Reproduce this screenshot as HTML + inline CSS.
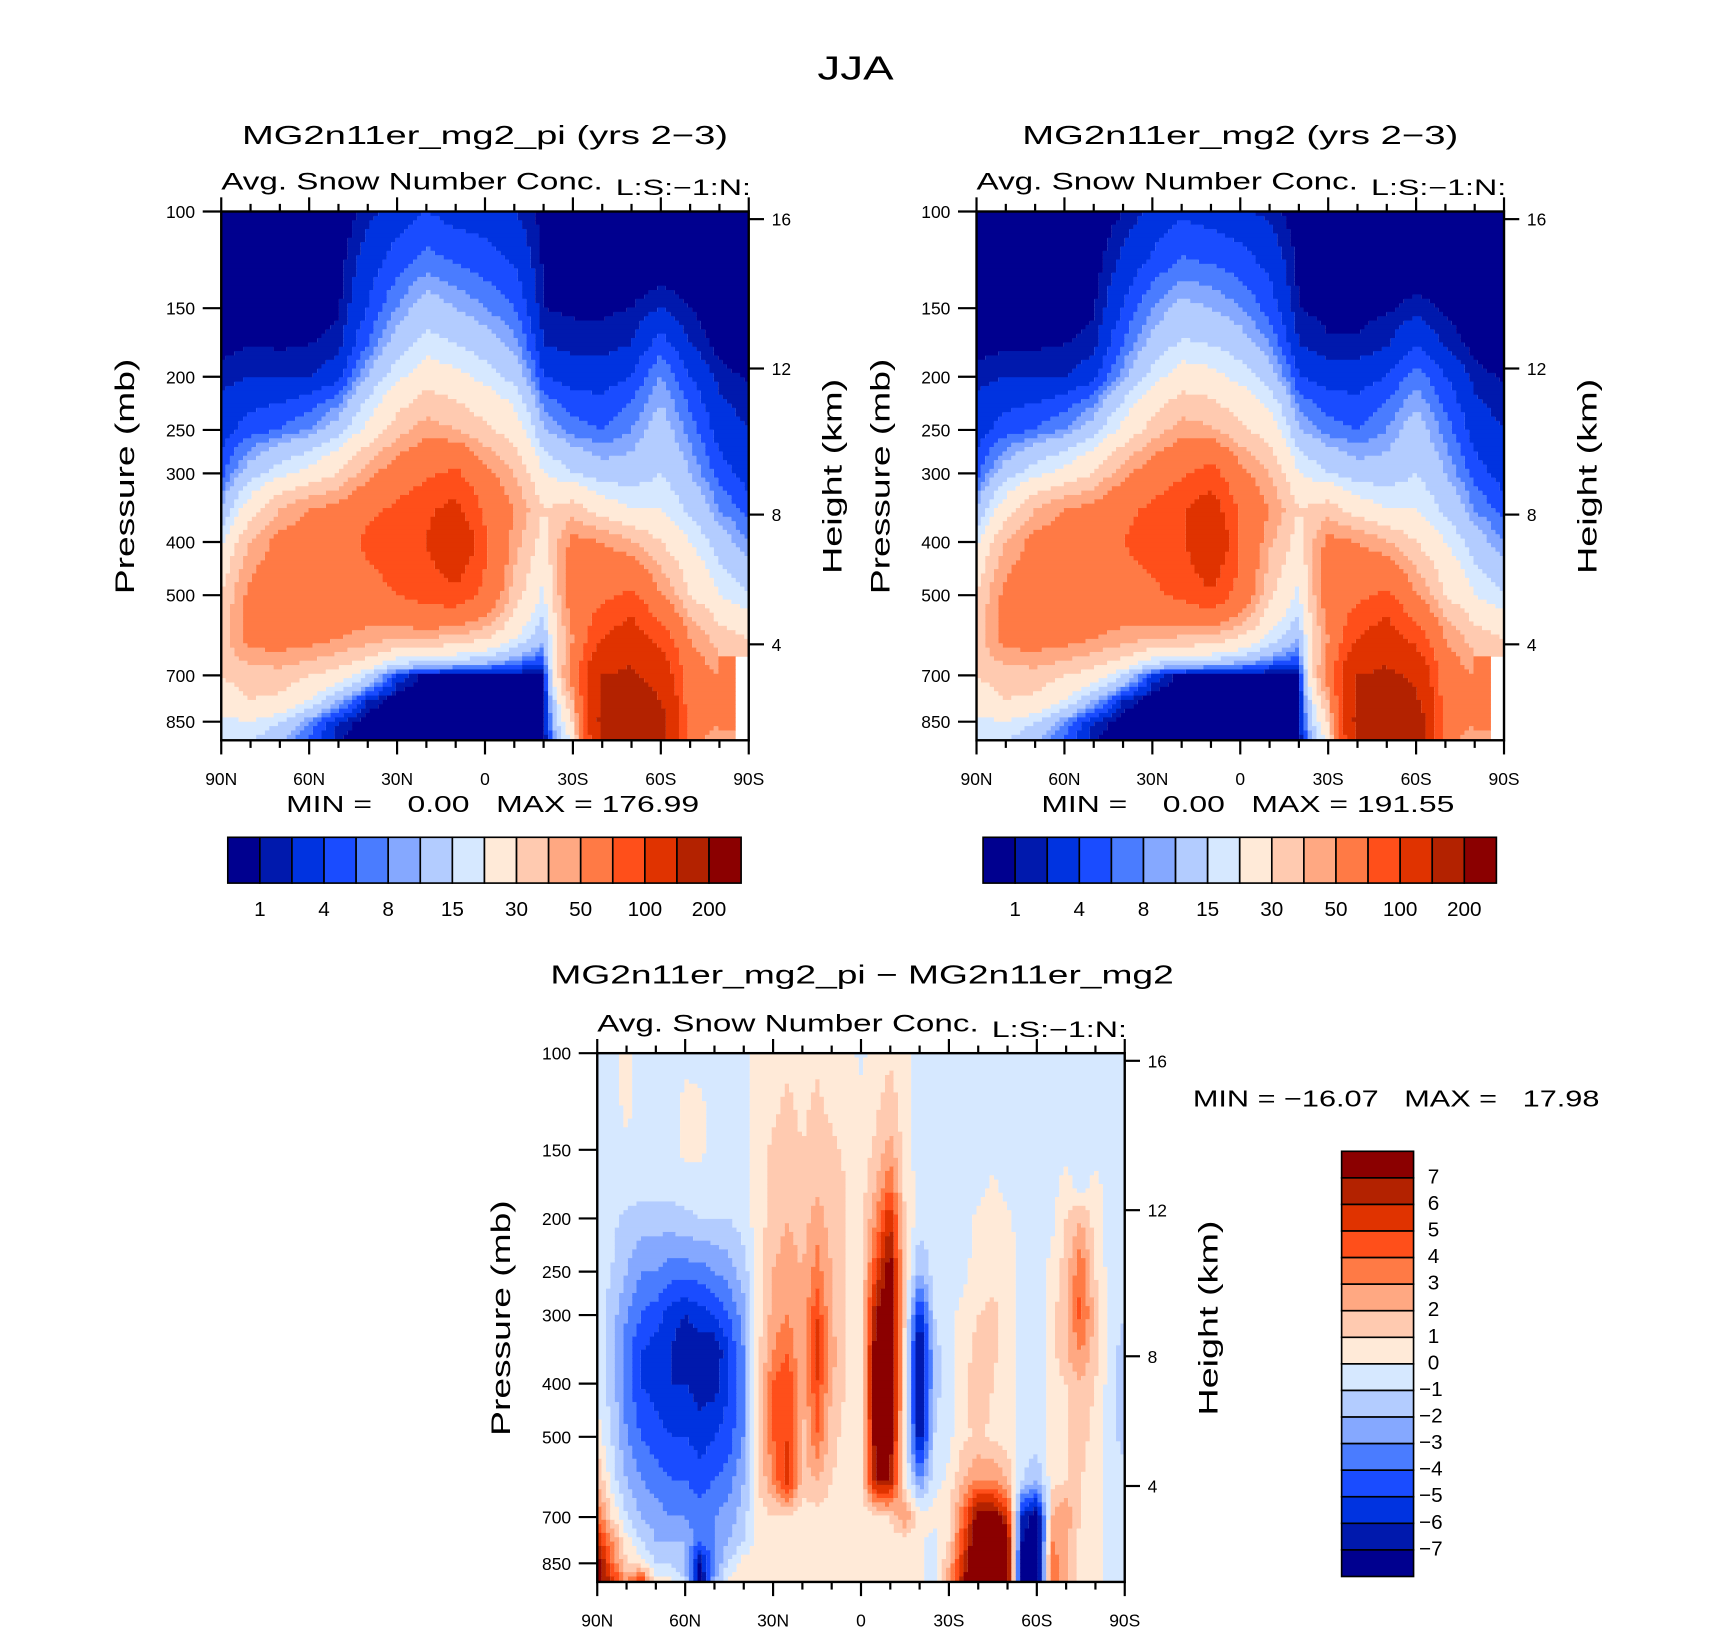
<!DOCTYPE html>
<html><head><meta charset="utf-8">
<style>
html,body{margin:0;padding:0;background:#fff;}
svg{display:block;font-family:"Liberation Sans",sans-serif;}
</style></head>
<body>
<svg id="fig" xmlns="http://www.w3.org/2000/svg" width="1710" height="1631" viewBox="0 0 1569 1496" preserveAspectRatio="none"></svg>
<script>
// ---------- data ----------
const pressureLevels = [100,125,150,175,200,250,300,350,400,500,600,700,775,850,925];
const latsCoarse = [90,80,70,60,50,40,30,20,10,0,-10,-20,-30,-40,-50,-60,-70,-80,-90];
const latsFine = [90,85,80,75,70,65,60,55,50,45,40,35,30,25,20,15,10,5,0,-5,-10,-15,-20,-25,-30,-35,-40,-45,-50,-55,-60,-65,-70,-75,-80,-85,-90];
const absLevels = [1,2,4,6,8,10,15,20,30,40,50,75,100,150,200];
const absLabels = ["1","4","8","15","30","50","100","200"];
const diffLevels = [-7,-6,-5,-4,-3,-2,-1,0,1,2,3,4,5,6,7];
const palette = ["#00008f","#0019ad","#0033e0","#1a4cff","#4a7cff","#85a8ff","#b3ccff","#d6e8ff","#ffead8","#ffcab0","#ffa882","#ff7a45","#ff4f1a","#e03300","#b32200","#8b0000"];
const pressureTicks = [100,150,200,250,300,400,500,700,850];
const heightTicks = [16,12,8,4];
const latTicks = [90,60,30,0,-30,-60,-90];
const latTickLabels = ["90N","60N","30N","0","30S","60S","90S"];

const fieldPI = [
[0,0,0,0,0,1.5,3,4,3,3,2,0.5,0,0,0,0,0,0,0],
[0,0,0,0,0.5,3,5,7,6,5,4,0.8,0,0,0,0,0,0,0],
[0,0,0,0,0.8,4,8,12,10,8,6,1,0.8,0.8,1,2,1,0,0],
[0.5,1,0.8,1,1.5,6,12,17,15,12,9,2,1.5,1.5,2,5,2,0.5,0],
[1.5,2,2,2,3,10,18,25,22,18,13,4,3,3,4,8,4,1.5,0.8],
[3,5,6,8,12,22,35,45,40,32,25,10,7,6,8,12,7,3,2],
[5,12,18,22,30,45,60,70,80,55,40,20,15,12,12,15,10,5,3],
[10,25,40,50,55,70,80,95,110,70,50,30,35,25,20,20,14,8,5],
[18,40,55,60,65,80,90,100,140,80,45,25,55,50,40,30,20,12,8],
[30,55,62,62,62,65,75,85,90,70,35,18,60,70,80,50,30,20,15],
[35,55,58,55,50,45,40,40,35,30,20,10,50,100,120,90,50,35,30],
[30,35,35,30,25,15,3,0.2,0,0,0,0.8,60,150,160,130,60,50,null],
[25,30,28,20,10,2,0,0,0,0,0,0,40,160,180,150,60,50,null],
[18,20,15,8,2,0.2,0,0,0,0,0,0,30,170,200,180,60,50,null],
[15,15,10,5,1,0,0,0,0,0,0,0,20,150,200,170,60,40,null]];

const fieldCTL = [
[0,0,0,0,0,1,2.5,3.5,3,2.5,1.5,0.3,0,0,0,0,0,0,0],
[0,0,0,0,0.4,2.5,4.5,6.5,6,5,3.5,0.6,0,0,0,0,0,0,0],
[0,0,0,0,0.8,4,8,11,10,8,5,1,0.6,0.6,0.8,1.5,0.8,0,0],
[0.5,0.8,0.8,1,1.5,6,11,16,15,12,8,2,1.2,1.2,1.8,4,1.8,0.5,0],
[1.5,2,2,2,3,9,17,24,22,18,12,4,3,3,4,7,4,1.5,0.8],
[3,5,6,8,12,22,34,45,42,32,25,10,7,6,8,12,7,3,2],
[5,12,18,22,30,45,60,72,85,55,40,20,15,12,12,15,10,5,3],
[10,25,40,50,55,70,80,95,120,70,50,30,35,25,20,20,14,8,5],
[18,40,55,60,65,75,85,95,140,75,42,25,55,50,40,30,20,12,8],
[30,55,62,62,62,65,70,80,95,65,32,18,60,70,80,50,30,20,15],
[35,55,58,55,50,45,40,38,35,28,18,10,50,100,120,90,50,35,30],
[30,35,35,30,25,15,3,0.2,0,0,0,0.8,60,150,160,140,60,50,null],
[25,30,28,20,10,2,0,0,0,0,0,0,40,160,180,160,60,50,null],
[18,20,15,8,2,0.2,0,0,0,0,0,0,30,170,200,190,60,50,null],
[15,15,10,5,1,0,0,0,0,0,0,0,20,150,200,180,60,40,null]];

const fieldDiff = [
[-0.5,-0.5,0.5,-0.5,-0.5,-0.5,-0.3,-0.5,-0.5,-0.5,-0.3,0.5,0.5,0.8,0.5,0.8,0.5,0.5,-0.3,0.5,0.8,0.3,-0.5,-0.5,-0.5,-0.5,-0.5,-0.5,-0.5,-0.5,-0.5,-0.5,-0.5,-0.5,-0.5,-0.5,-0.5],
[-0.5,-0.5,0.3,-0.5,-0.5,-0.5,0.3,0.3,-0.5,-0.5,-0.3,0.5,0.8,1.2,0.8,1.2,0.8,0.8,0.5,0.8,1.5,0.5,-0.5,-0.5,-0.5,-0.5,-0.5,-0.5,-0.5,-0.5,-0.5,-0.5,-0.5,-0.5,-0.5,-0.5,-0.5],
[-0.5,-0.5,-0.3,-0.5,-0.5,-0.5,0.3,0.3,-0.5,-0.5,-0.3,0.5,1.2,1.5,1,1.5,1.2,0.8,0.5,1.2,2.5,0.5,-0.5,-0.5,-0.5,-0.5,-0.5,-0.5,-0.5,-0.5,-0.5,-0.5,-0.5,-0.5,-0.3,-0.5,-0.5],
[-0.5,-0.5,-0.5,-0.5,-0.5,-0.5,-0.5,-0.5,-0.5,-0.5,-0.5,0.5,1.5,1.8,1.2,1.8,1.5,1,0.5,2,4,0.8,-0.5,-0.5,-0.3,-0.5,-0.5,0.3,-0.5,-0.5,-0.5,-0.5,0.5,-0.5,0.3,-0.5,-0.5],
[-0.5,-0.8,-1.2,-1.5,-1.5,-1.5,-1.2,-1,-1,-1,-0.5,0.5,1.5,2,1.5,2.5,1.5,1,0.5,3,6,1,-0.5,-0.5,-0.3,-0.5,0.3,0.5,0.3,-0.5,-0.5,-0.3,1,2,0.5,-0.5,-0.5],
[-0.5,-1,-2,-3,-3,-3.5,-3.5,-3.5,-3,-2.5,-1.5,0.5,2,2.5,2,3.5,2,1,0.5,5,8,1,-2,-0.5,-0.3,-0.3,0.5,0.8,0.5,-0.5,-0.5,0.3,1.5,4,1,-0.5,-0.5],
[-0.5,-1.5,-3,-4,-4.5,-5.5,-6,-5.5,-5,-4,-2.5,0.5,2.5,3,2,5,2,1,0.8,7,9,1,-6,-1,-0.3,0.3,1,1.2,0.8,-0.5,-0.5,0.5,2,4.5,1.5,-0.5,-1],
[-0.5,-1.5,-3.5,-5,-5.5,-6,-7,-6.5,-7,-5,-3,0.8,3,4,2,6,2.5,1,0.8,8,9,0.5,-8,-1.5,-0.3,0.5,1.5,1.2,0.5,-0.5,-0.5,0.5,2,3,1.5,-0.5,-1.5],
[-0.5,-1.5,-3.5,-5,-5.5,-6,-6,-6.5,-6.5,-5,-3,1,4,5,2,5,2,1,0.8,8,9,0.5,-8,-1.5,-0.3,0.8,1.5,1,0.5,-0.5,-0.5,0.3,1,2,1,-0.5,-2],
[0.5,-1,-3,-4,-4.5,-5,-5,-5.5,-5,-4.5,-3,1.5,4,5,1.5,4,1.5,0.5,0.5,8,8,0.3,-7,-1,-0.3,0.8,1.2,0.8,0.5,-0.3,-0.5,0.3,1,1.5,0.5,-0.5,-1.5],
[2,-0.5,-2,-3,-3.5,-4,-4,-4.5,-4,-3.5,-2,1,3,6,1.5,2,1,0.5,0.5,7,7,0.3,-3,-0.5,0.3,2,3,3,2,-1,-2,0.5,1,1,0.5,-0.5,-0.5],
[4,1,-1,-2,-2.5,-3,-3,-3.5,-3,-2.5,-1.5,0.5,1,0.8,0.5,0.5,0.5,0.3,0.3,0.8,1,3,0.5,0.5,1,4,8,8,6,-6,-8,2,3,1,0.5,-0.5,-0.5],
[6,3,0.5,-1,-2,-2,-2,-4,-3,-2,-1,0.5,0.5,0.5,0.5,0.5,0.5,0.3,0.3,0.5,0.5,0.5,0.3,-0.5,1,5,9,10,8,-7,-9,3,2,0.5,0.5,-0.5,-0.5],
[8,4,1,0.5,-1,-1,-2,-7,-3,-1,0.5,0.5,0.5,0.5,0.5,0.5,0.5,0.3,0.3,0.5,0.5,0.5,0.3,-0.5,2,6,10,10,8,-8,-9,4,2,0.5,0.5,-0.5,-0.5],
[8,6,3,6,0.5,0.5,-1,-8,-2,0.5,0.5,0.5,0.5,0.5,0.5,0.5,0.5,0.3,0.3,0.5,0.5,0.5,0.3,-0.5,3,7,10,10,8,-8,-9,4,2,0.5,0.5,-0.5,-0.5]];

// ---------- helpers ----------
const NS = "http://www.w3.org/2000/svg";
const svg = document.getElementById("fig");
function mk(tag, attrs, parent){
  const e = document.createElementNS(NS, tag);
  for (const k in attrs) e.setAttribute(k, attrs[k]);
  (parent||svg).appendChild(e);
  return e;
}
function txt(s, x, y, size, anchor, parent, extra){
  const t = mk("text", Object.assign({x:x, y:y, "font-size":size, "text-anchor":anchor||"start", fill:"#000"}, extra||{}), parent);
  t.textContent = s;
  return t;
}
function levelIndex(v, levels){ let i=0; while(i<levels.length && v>=levels[i]) i++; return i; }

const PBOT = 919, W = 484, H = 485;

function drawPanel(px, py, lats, field, levels, prefix){
  const g = mk("g", {});
  
  
  const k = H / Math.log(PBOT/100);
  const xOf = lat => px + (90-lat)/180*W;
  const yOf = p => py + k*Math.log(p/100);
  const lnP = pressureLevels.map(p=>Math.log(p));
  const cell = 4;
  const nLat = lats.length;
  for (let yy=0; yy<H; yy+=cell){
    const p = 100*Math.exp((yy+cell/2)/k);
    const lp = Math.log(p);
    let r = 0; while (r < lnP.length-2 && lp > lnP[r+1]) r++;
    let fy = (lp - lnP[r])/(lnP[r+1]-lnP[r]); fy = Math.max(0, Math.min(1, fy));
    let runStart = 0, runCol = null;
    const hh = Math.min(cell, H-yy);
    const flush = (end) => {
      if (runCol !== null){
        const rc = mk("rect", {x:px+runStart, y:py+yy, width:end-runStart, height:hh+0.4, fill:runCol}, g);
        
        
      }
    };
    for (let xx=0; xx<W; xx+=cell){
      const lat = 90 - (xx+cell/2)/W*180;
      const fi = (lats[0]-lat)/(lats[0]-lats[nLat-1])*(nLat-1);
      let c = Math.min(nLat-2, Math.max(0, Math.floor(fi)));
      const fx = fi - c;
      const a = field[r][c], b = field[r][c+1], d = field[r+1][c], e = field[r+1][c+1];
      let col;
      const near = [[a,b],[d,e]][fy<0.5?0:1][fx<0.5?0:1];
      if (a===null||b===null||d===null||e===null){
        col = (near===null) ? null : palette[levelIndex(near, levels)];
      } else {
        const v = (a*(1-fx)+b*fx)*(1-fy) + (d*(1-fx)+e*fx)*fy;
        col = palette[levelIndex(v, levels)];
      }
      if (col !== runCol){ flush(xx); runStart = xx; runCol = col; }
    }
    flush(W);
  }
  const fr = mk("rect", {x:px, y:py, width:W, height:H, fill:"none", stroke:"#000", "stroke-width":2.2});
  
  
  for (let lat=90; lat>=-90; lat-=10){
    const x = xOf(lat), major = (lat%30===0);
    const L = major?13:7;
    const t1 = mk("line", {x1:x, y1:py, x2:x, y2:py-L, stroke:"#000", "stroke-width":2});
    
    
    const t2 = mk("line", {x1:x, y1:py+H, x2:x, y2:py+H+L, stroke:"#000", "stroke-width":2});
    
    
  }
  latTicks.forEach((lat,i)=>{
    const t = txt(latTickLabels[i], xOf(lat), py+H+41, 16, "middle");
    
    
  });
  pressureTicks.forEach(p=>{
    const y = yOf(p);
    const l = mk("line", {x1:px-17, y1:y, x2:px, y2:y, stroke:"#000", "stroke-width":2});
    
    
    const t = txt(String(p), px-24, y+6, 16, "end");
    
    
  });
  const hy = [7,144,278,397];
  heightTicks.forEach((h,i)=>{
    const y = py + hy[i];
    const l = mk("line", {x1:px+W, y1:y, x2:px+W+14, y2:y, stroke:"#000", "stroke-width":2});
    
    
    const t = txt(String(h), px+W+21, y+6, 16, "start");
    
    
  });
  const yl = txt("Pressure (mb)", 0, 0, 25, "middle", null, {transform:`translate(${px-80},${py+243}) rotate(-90)`, textLength:216, lengthAdjust:"spacingAndGlyphs"});
  
  
  const yr = txt("Height (km)", 0, 0, 25, "middle", null, {transform:`translate(${px+W+85},${py+243}) rotate(-90)`, textLength:179, lengthAdjust:"spacingAndGlyphs"});
  
  
  const st = txt("Avg. Snow Number Conc.", px, py-20, 22, "start", null, {textLength:350, lengthAdjust:"spacingAndGlyphs"});
  
  
  const ls = txt("L:S:\u22121:N:", px+W+2, py-15, 20, "end", null, {textLength:124, lengthAdjust:"spacingAndGlyphs"});
  
  
}

function hColorbar(x0, y0, prefix){
  const w = 471, h = 42, n = palette.length, bw = w/n;
  palette.forEach((c,i)=>{
    const r = mk("rect", {x:x0+i*bw, y:y0, width:bw, height:h, fill:c, stroke:"#000", "stroke-width":1.5});
    
    
  });
  absLabels.forEach((s,j)=>{
    const t = txt(s, x0+(2*j+1)*bw, y0+h+30, 19, "middle");
    
    
  });
}

// ---------- figure ----------
const tt = txt("JJA", 785, 73, 31, "middle", null, {textLength:70, lengthAdjust:"spacingAndGlyphs"});



drawPanel(203, 194, latsCoarse, fieldPI, absLevels, "pi-panel");
const t1 = txt("MG2n11er_mg2_pi (yrs 2\u22123)", 445, 132, 24, "middle", null, {textLength:446, lengthAdjust:"spacingAndGlyphs"});


const m1 = txt("MIN =    0.00   MAX = 176.99", 452, 745, 21, "middle", null, {textLength:379, lengthAdjust:"spacingAndGlyphs", style:"white-space:pre"});


hColorbar(209, 768, "pi-panel");

drawPanel(896, 194, latsCoarse, fieldCTL, absLevels, "ctl-panel");
const t2 = txt("MG2n11er_mg2 (yrs 2\u22123)", 1138, 132, 24, "middle", null, {textLength:400, lengthAdjust:"spacingAndGlyphs"});


const m2 = txt("MIN =    0.00   MAX = 191.55", 1145, 745, 21, "middle", null, {textLength:379, lengthAdjust:"spacingAndGlyphs", style:"white-space:pre"});


hColorbar(902, 768, "ctl-panel");

drawPanel(548, 966, latsFine, fieldDiff, diffLevels, "diff-panel");
const t3 = txt("MG2n11er_mg2_pi \u2212 MG2n11er_mg2", 791, 902, 24, "middle", null, {textLength:572, lengthAdjust:"spacingAndGlyphs"});


const m3 = txt("MIN = \u221216.07   MAX =   17.98", 1281, 1015, 21, "middle", null, {textLength:373, lengthAdjust:"spacingAndGlyphs", style:"white-space:pre"});



(function(){
  const x0 = 1231, y0 = 1056, w = 66, h = 390, n = palette.length, bh = h/n;
  for (let i=0;i<n;i++){
    const r = mk("rect", {x:x0, y:y0+i*bh, width:w, height:bh, fill:palette[n-1-i], stroke:"#000", "stroke-width":1.5});
    
    
  }
  for (let j=0;j<diffLevels.length;j++){
    const v = diffLevels[diffLevels.length-1-j];
    const s = v<0 ? "\u2212"+(-v) : String(v);
    const t = txt(s, v<0?1302:1310, y0+(j+1)*bh+5, 19, "start");
    
    
  }
})();
</script>
</body></html>
